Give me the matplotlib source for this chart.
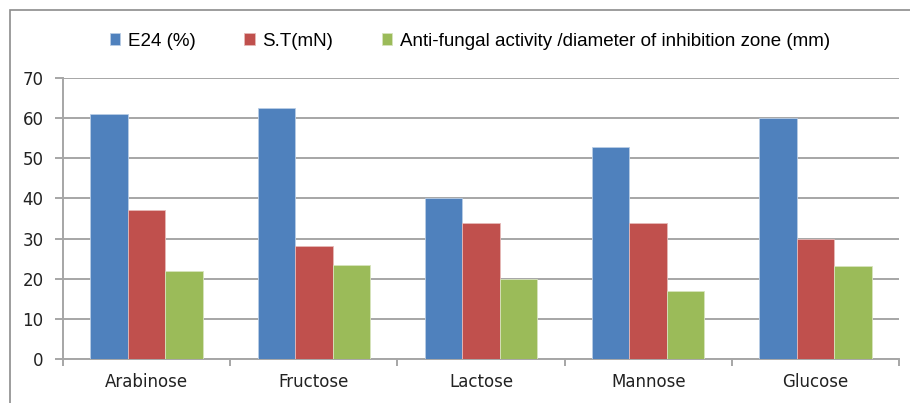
import matplotlib
matplotlib.use("Agg")
import matplotlib.pyplot as plt
import numpy as np
from matplotlib.patches import Rectangle

categories = ["Arabinose", "Fructose", "Lactose", "Mannose", "Glucose"]
e24 = [61, 62.5, 40, 52.8, 60]
st = [37, 28.2, 34, 34, 29.8]
antifungal = [22, 23.5, 20, 17, 23.2]
series_names = ["E24 (%)", "S.T(mN)", "Anti-fungal activity /diameter of inhibition zone (mm)"]
colors = ["#4F81BD", "#C0504D", "#9BBB59"]
edge_colors = ["#B9CDE5", "#E6B9B8", "#D7E4BD"]

fig = plt.figure(figsize=(9.10, 4.03), dpi=100)
ax = fig.add_axes([63/910, 1-359/403, (899-63)/910, (359-78)/403])

x = np.arange(len(categories))
w = 0.224
for i, (vals, name) in enumerate(zip([e24, st, antifungal], series_names)):
    ax.bar(x + (i-1)*w, vals, w, color=colors[i], edgecolor=edge_colors[i],
           linewidth=0.6, label=name, zorder=3)

ax.set_xlim(-0.5, len(categories)-0.5)
ax.set_ylim(0, 70)
ax.set_yticks(range(0, 71, 10))
ax.yaxis.grid(True, color="#A6A6A6", linewidth=1.4, zorder=0)
ax.set_axisbelow(True)
for s in ["top", "right"]:
    ax.spines[s].set_visible(False)
for s in ["left", "bottom"]:
    ax.spines[s].set_color("#A6A6A6")
    ax.spines[s].set_linewidth(1.4)

ax.set_xticks(x)
ax.set_xticklabels(categories, fontsize=12, family="DejaVu Sans", color="#222222")
ax.tick_params(axis="x", length=0, pad=10)
ax.set_xticks(np.arange(-0.5, len(categories)), minor=True)
ax.tick_params(axis="x", which="minor", length=5, width=1.4, color="#A6A6A6")
ax.tick_params(axis="y", length=6, width=1.4, color="#A6A6A6", pad=8,
               labelsize=12, labelcolor="#222222")

leg = fig.legend(loc="center", bbox_to_anchor=(470/910, 1-41/403), ncol=3,
                 frameon=False, handlelength=0.55, handleheight=0.55,
                 handletextpad=0.4, columnspacing=2.6,
                 prop={"family": "Liberation Sans", "size": 13.5})

fig.patches.append(Rectangle((10/910, -0.1), 1.2, 1-10/403+0.1, transform=fig.transFigure,
                             fill=False, edgecolor="#8C8C8C", linewidth=1.2))

fig.savefig("out.png", dpi=100)
